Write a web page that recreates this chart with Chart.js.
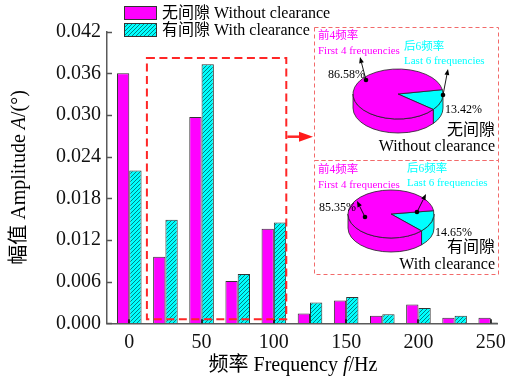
<!DOCTYPE html>
<html>
<head>
<meta charset="utf-8">
<script src="https://cdn.jsdelivr.net/npm/chart.js@4/dist/chart.umd.min.js"></script>
<style>
  html, body { margin: 0; padding: 0; background: #fff; }
  #c { display: block; }
</style>
</head>
<body>
<canvas id="c" width="513" height="381"></canvas>
<script>
// Spectrum amplitudes at each frequency line (Hz)
const frequencies = [0, 25, 50, 75, 100, 125, 150, 175, 200, 225, 250];
const ampWithout  = [0.0360, 0.0096, 0.0297, 0.0061, 0.0136, 0.0014, 0.0033, 0.0011, 0.0027, 0.0008, 0.0008];
const ampWith     = [0.0220, 0.0149, 0.0373, 0.0071, 0.0145, 0.0030, 0.0038, 0.0013, 0.0022, 0.0011, 0.0001];
const xTicks = [0, 50, 100, 150, 200, 250];
const yTicks = [0, 0.006, 0.012, 0.018, 0.024, 0.030, 0.036, 0.042];

// Energy share: first 4 frequencies vs last 6 frequencies (%)
const shareWithout = [86.58, 13.42];
const shareWith    = [85.35, 14.65];

const seriesLabels = ['无间隙 Without clearance', '有间隙 With clearance'];

const MAGENTA = '#FF00FF';
const CYAN = '#00FFFF';
const SERIF = "'Liberation Serif', 'Noto Sans CJK SC', serif";

// Hatched cyan fill
function makeHatch() {
  const t = document.createElement('canvas');
  t.width = 4; t.height = 4;
  const g = t.getContext('2d');
  g.fillStyle = CYAN;
  g.fillRect(0, 0, 4, 4);
  g.strokeStyle = 'rgba(0,90,90,0.75)';
  g.lineWidth = 1;
  g.beginPath();
  g.moveTo(-1, 5); g.lineTo(5, -1);
  g.moveTo(-1, 1); g.lineTo(1, -1);
  g.moveTo(3, 5); g.lineTo(5, 3);
  g.stroke();
  return document.getElementById('c').getContext('2d').createPattern(t, 'repeat');
}
const hatch = makeHatch();

function drawRich(ctx, parts, x, y, align, rotate) {
  ctx.save();
  ctx.translate(x, y);
  if (rotate) ctx.rotate(rotate);
  let total = 0;
  for (const p of parts) { ctx.font = p.font; total += ctx.measureText(p.text).width; }
  let cx = align === 'center' ? -total / 2 : (align === 'right' ? -total : 0);
  ctx.textBaseline = 'middle';
  ctx.textAlign = 'left';
  for (const p of parts) {
    ctx.font = p.font;
    ctx.fillStyle = p.color || '#000';
    ctx.fillText(p.text, cx, 0);
    cx += ctx.measureText(p.text).width;
  }
  ctx.restore();
}

function drawText(ctx, text, x, y, font, color, align) {
  ctx.save();
  ctx.font = font;
  ctx.fillStyle = color;
  ctx.textAlign = align || 'left';
  ctx.textBaseline = 'middle';
  ctx.fillText(text, x, y);
  ctx.restore();
}

function drawPie3D(ctx, pie) {
  const {cx, cy, rx, ry, depth, shares, startDeg} = pie;
  const colors = [MAGENTA, CYAN];
  const total = shares.reduce((a, b) => a + b, 0);
  let a = startDeg * Math.PI / 180;
  const slices = [];
  for (const i of [1, 0]) {
    const span = shares[i] / total * 2 * Math.PI;
    slices.push({s: a, e: a + span, color: colors[i]});
    a += span;
  }
  ctx.save();
  ctx.lineWidth = 0.8;
  ctx.strokeStyle = '#222';
  // visible side wall (front half of the ellipse)
  for (const sl of slices) {
    for (const k of [-1, 0, 1]) {
      const lo = Math.max(sl.s, k * 2 * Math.PI);
      const hi = Math.min(sl.e, k * 2 * Math.PI + Math.PI);
      if (hi > lo) {
        ctx.beginPath();
        ctx.ellipse(cx, cy, rx, ry, 0, lo, hi);
        ctx.lineTo(cx + rx * Math.cos(hi), cy + ry * Math.sin(hi) + depth);
        ctx.ellipse(cx, cy + depth, rx, ry, 0, hi, lo, true);
        ctx.closePath();
        ctx.fillStyle = sl.color;
        ctx.fill();
        ctx.stroke();
      }
    }
  }
  // top face
  for (const sl of slices) {
    ctx.beginPath();
    ctx.moveTo(cx, cy);
    ctx.ellipse(cx, cy, rx, ry, 0, sl.s, sl.e);
    ctx.closePath();
    ctx.fillStyle = sl.color;
    ctx.fill();
    ctx.stroke();
  }
  ctx.restore();
}

function pointerArrow(ctx, x0, y0, x1, y1) {
  ctx.save();
  ctx.strokeStyle = '#000';
  ctx.fillStyle = '#000';
  ctx.lineWidth = 0.9;
  const ang = Math.atan2(y1 - y0, x1 - x0);
  const hl = 6, hw = 2.4;
  const bx = x1 - hl * Math.cos(ang), by = y1 - hl * Math.sin(ang);
  ctx.beginPath();
  ctx.moveTo(x0, y0); ctx.lineTo(bx, by);
  ctx.stroke();
  ctx.beginPath();
  ctx.moveTo(x1, y1);
  ctx.lineTo(bx + hw * Math.sin(ang), by - hw * Math.cos(ang));
  ctx.lineTo(bx - hw * Math.sin(ang), by + hw * Math.cos(ang));
  ctx.closePath();
  ctx.fill();
  ctx.beginPath();
  ctx.arc(x0, y0, 2.3, 0, Math.PI * 2);
  ctx.fill();
  ctx.restore();
}

// Region of the first five lines that the insets summarise
const focusBand = {xFrom: 12.2, xTo: 108.6, yFrom: 0.0006, yTo: 0.0382};

const decorPlugin = {
  id: 'decor',
  afterDraw(chart) {
    const ctx = chart.ctx;
    const xs = chart.scales.x, ys = chart.scales.y;
    const area = chart.chartArea;

    // inward tick marks
    ctx.save();
    ctx.strokeStyle = '#555';
    ctx.lineWidth = 1.5;
    for (const v of yTicks) {
      const py = Math.round(ys.getPixelForValue(v)) + 0.5;
      ctx.beginPath(); ctx.moveTo(area.left, py); ctx.lineTo(area.left + 5, py); ctx.stroke();
    }
    ctx.strokeStyle = '#111';
    ctx.lineWidth = 1.6;
    for (const v of xTicks) {
      const px = Math.round(xs.getPixelForValue(v));
      ctx.beginPath(); ctx.moveTo(px, area.bottom); ctx.lineTo(px, area.bottom - 4); ctx.stroke();
    }
    ctx.restore();

    // axis titles
    const f20 = '20px ' + SERIF;
    const f20i = 'italic 20px ' + SERIF;
    drawRich(ctx, [
      {text: '频率 Frequency ', font: f20},
      {text: 'f', font: f20i},
      {text: '/Hz', font: f20}
    ], 293, 366, 'center');
    drawRich(ctx, [
      {text: '幅值 Amplitude ', font: f20},
      {text: 'A', font: f20i},
      {text: '/(°)', font: f20}
    ], 20, (area.top + area.bottom) / 2, 'center', -Math.PI / 2);

    // legend
    const ds = chart.data.datasets;
    const lg = [{y: 6}, {y: 23}];
    ds.forEach((d, i) => {
      ctx.save();
      ctx.fillStyle = d.backgroundColor;
      ctx.fillRect(124, lg[i].y, 33, 13);
      ctx.strokeStyle = '#333';
      ctx.lineWidth = 1;
      ctx.strokeRect(124.5, lg[i].y + 0.5, 32, 13);
      ctx.restore();
      drawText(ctx, d.label, 162, lg[i].y + 7.5, '16px ' + SERIF, '#000', 'left');
    });

    // dashed focus box around the first five lines
    const bx0 = xs.getPixelForValue(focusBand.xFrom), bx1 = xs.getPixelForValue(focusBand.xTo);
    const by0 = ys.getPixelForValue(focusBand.yTo), by1 = ys.getPixelForValue(focusBand.yFrom);
    ctx.save();
    ctx.strokeStyle = '#FF2626';
    ctx.lineWidth = 2;
    ctx.setLineDash([8, 4.5]);
    ctx.strokeRect(bx0, by0, bx1 - bx0, by1 - by0);
    ctx.setLineDash([]);
    // arrow to the insets
    const ay = 136.7;
    ctx.lineWidth = 2.5;
    ctx.beginPath(); ctx.moveTo(bx1 + 1, ay); ctx.lineTo(301, ay); ctx.stroke();
    ctx.fillStyle = '#FF1A1A';
    ctx.beginPath(); ctx.moveTo(313, ay); ctx.lineTo(299, ay - 5); ctx.lineTo(299, ay + 5); ctx.closePath(); ctx.fill();
    // inset frames
    ctx.strokeStyle = '#F26A6A';
    ctx.lineWidth = 1;
    ctx.setLineDash([4, 3]);
    ctx.strokeRect(314.5, 27.5, 184, 133);
    ctx.strokeRect(314.5, 160.5, 184, 114);
    ctx.restore();

    const small = '11px ' + SERIF;
    const cjkSmall = '11.5px ' + SERIF;
    const pct = '12px ' + SERIF;
    const big = '16px ' + SERIF;

    // inset 1: without clearance
    drawPie3D(ctx, {cx: 398, cy: 94, rx: 45, ry: 25, depth: 14, shares: shareWithout, startDeg: -10});
    drawText(ctx, '前4频率', 318, 36, cjkSmall, MAGENTA);
    drawText(ctx, 'First 4 frequencies', 318, 51, small, MAGENTA);
    drawText(ctx, '后6频率', 404, 47, cjkSmall, CYAN);
    drawText(ctx, 'Last 6 frequencies', 404, 61, small, CYAN);
    drawText(ctx, shareWithout[0].toFixed(2) + '%', 328, 75, pct, '#000');
    drawText(ctx, shareWithout[1].toFixed(2) + '%', 445, 110, pct, '#000');
    pointerArrow(ctx, 366, 80, 360, 57);
    pointerArrow(ctx, 443, 95, 448, 69);
    drawText(ctx, '无间隙', 495, 131, big, '#000', 'right');
    drawText(ctx, 'Without clearance', 495, 147, big, '#000', 'right');

    // inset 2: with clearance
    drawPie3D(ctx, {cx: 391, cy: 214, rx: 43, ry: 24, depth: 14, shares: shareWith, startDeg: -8});
    drawText(ctx, '前4频率', 318, 170, cjkSmall, MAGENTA);
    drawText(ctx, 'First 4 frequencies', 318, 185, small, MAGENTA);
    drawText(ctx, '后6频率', 407, 169, cjkSmall, CYAN);
    drawText(ctx, 'Last 6 frequencies', 407, 183, small, CYAN);
    drawText(ctx, shareWith[0].toFixed(2) + '%', 319, 208, pct, '#000');
    drawText(ctx, shareWith[1].toFixed(2) + '%', 435, 233, pct, '#000');
    pointerArrow(ctx, 365, 217, 357, 201);
    pointerArrow(ctx, 417, 212, 426, 194);
    drawText(ctx, '有间隙', 495, 248, big, '#000', 'right');
    drawText(ctx, 'With clearance', 495, 265, big, '#000', 'right');
  }
};

new Chart(document.getElementById('c'), {
  type: 'bar',
  data: {
    datasets: [
      {
        label: seriesLabels[0],
        data: frequencies.map((f, i) => ({x: f, y: ampWithout[i]})),
        backgroundColor: MAGENTA,
        borderColor: '#333',
        borderWidth: 1
      },
      {
        label: seriesLabels[1],
        data: frequencies.map((f, i) => ({x: f, y: ampWith[i]})),
        backgroundColor: hatch,
        borderColor: '#333',
        borderWidth: 1
      }
    ]
  },
  options: {
    responsive: false,
    animation: false,
    events: [],
    categoryPercentage: 0.68,
    barPercentage: 1.0,
    layout: {padding: {top: 31.6, right: 15, left: 0, bottom: 0}},
    plugins: {legend: {display: false}, tooltip: {enabled: false}},
    scales: {
      x: {
        type: 'linear',
        min: -15.4,
        max: 254.8,
        offset: false,
        grid: {display: false, drawTicks: false, offset: false},
        border: {display: true, color: '#5a5a5a', width: 1.5},
        ticks: {
          font: {family: SERIF, size: 20},
          color: '#111',
          padding: 7,
          maxRotation: 0,
          callback: v => String(v)
        },
        afterBuildTicks: s => { s.ticks = xTicks.map(v => ({value: v})); },
        afterFit: s => { s.height = 381 - 323.3; }
      },
      y: {
        type: 'linear',
        min: 0,
        max: 0.042,
        grid: {display: false, drawTicks: false},
        border: {display: true, color: '#5a5a5a', width: 1.5},
        ticks: {
          font: {family: SERIF, size: 20},
          color: '#111',
          padding: 6,
          callback: v => v.toFixed(3)
        },
        afterBuildTicks: s => { s.ticks = yTicks.map(v => ({value: v})); },
        afterFit: s => { s.width = 107; }
      }
    }
  },
  plugins: [decorPlugin]
});
</script>
</body>
</html>
